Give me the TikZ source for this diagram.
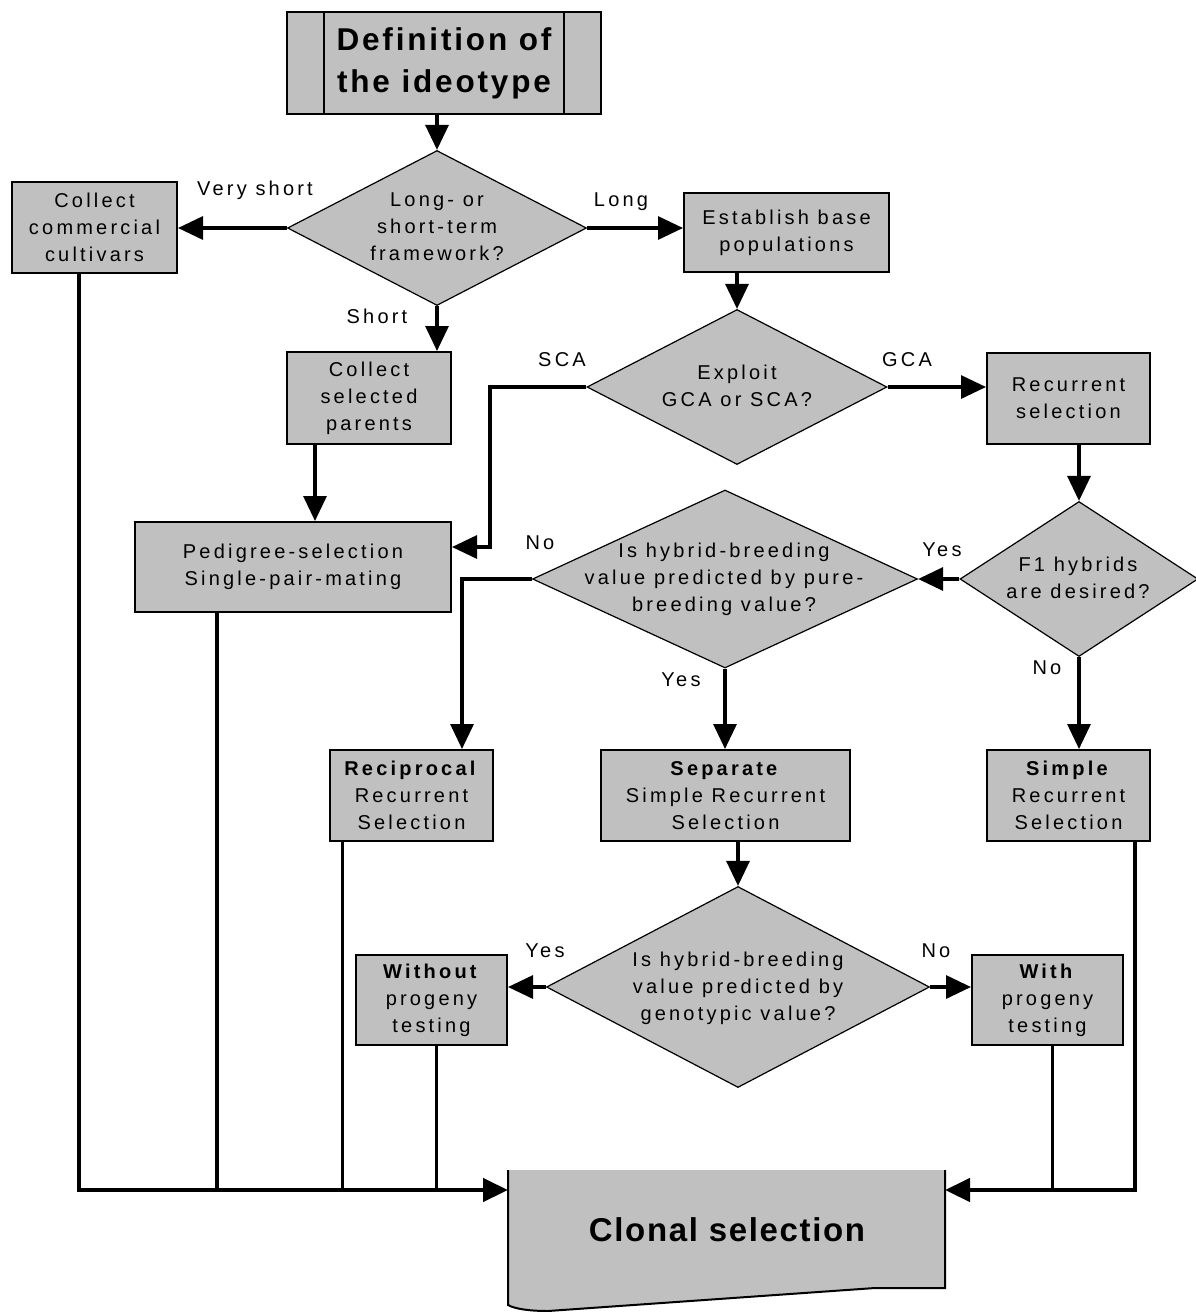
\documentclass[tikz,border=0pt]{standalone}
\usepackage{fontspec}
\setmainfont{Liberation Sans}
\newfontfamily\bxfont{Liberation Sans}[LetterSpace=16]
\newfontfamily\ttlfont{Liberation Sans}[LetterSpace=9]
\newfontfamily\clfont{Liberation Sans}[LetterSpace=5]
\usetikzlibrary{shapes.geometric,arrows.meta}
\definecolor{boxgray}{RGB}{192,192,192}
\begin{document}
\begin{tikzpicture}[x=1pt,y=-1pt,
  box/.style={draw,line width=2pt,fill=boxgray,rectangle,inner sep=0pt,align=center,
    font=\bxfont\fontsize{20}{27}\selectfont},
  dia/.style={draw,line width=1.2pt,fill=boxgray,diamond,inner sep=0pt},
  dtext/.style={align=center,inner sep=0pt,font=\bxfont\fontsize{20}{27}\selectfont},
  lbl/.style={inner sep=0pt,font=\bxfont\fontsize{20}{24}\selectfont},
  conn/.style={line width=3.2pt,-{Triangle[length=25pt,width=23pt]}},
  line/.style={line width=3pt},
  heavy/.style={line width=4.4pt},
]
\useasboundingbox (0,0) rectangle (1196,1312);

% title
\node[box,minimum width=314pt,minimum height=102pt,
  font=\ttlfont\bfseries\fontsize{31.5}{42}\selectfont] (def) at (444,63) {Definition of\\the ideotype};
\draw[line width=2.6pt] ([xshift=38pt]def.north west) -- ([xshift=38pt]def.south west);
\draw[line width=2.6pt] ([xshift=-38pt]def.north east) -- ([xshift=-38pt]def.south east);

% diamonds
\node[dia,minimum width=299pt,minimum height=155pt] (d1) at (437,228) {};
\node[dtext] (d1t) at (437,227) {Long- or\\short-term\\framework?};
\node[dia,minimum width=300pt,minimum height=155pt] (d2) at (737,387) {};
\node[dtext] (d2t) at (737,386) {Exploit\\GCA or SCA?};
\node[dia,minimum width=238pt,minimum height=155pt] (d3) at (1079,579) {};
\node[dtext] (d3t) at (1078,578) {F1 hybrids\\are desired?};
\node[dia,minimum width=385pt,minimum height=178pt] (d4) at (725,579) {};
\node[dtext] (d4t) at (724,579) {Is hybrid-breeding\\value predicted by pure-\\breeding value?};
\node[dia,minimum width=383pt,minimum height=201pt] (d5) at (738,987) {};
\node[dtext] (d5t) at (738,988) {Is hybrid-breeding\\value predicted by\\genotypic value?};

% boxes
\node[box,minimum width=165pt,minimum height=91pt] (cc) at (94.5,227.5) {Collect\\commercial\\cultivars};
\node[box,minimum width=205pt,minimum height=79pt] (eb) at (786.5,232.5) {Establish base\\populations};
\node[box,minimum width=164pt,minimum height=92pt] (csp) at (369,398) {Collect\\selected\\parents};
\node[box,minimum width=316pt,minimum height=90pt] (ped) at (293,567) {Pedigree-selection\\Single-pair-mating};
\node[box,minimum width=163pt,minimum height=91pt] (rs) at (1068.5,398.5) {Recurrent\\selection};
\node[box,minimum width=163pt,minimum height=91pt] (rec) at (411.5,795.5) {\textbf{Reciprocal}\\Recurrent\\Selection};
\node[box,minimum width=249pt,minimum height=91pt] (sep) at (725.5,795.5) {\textbf{Separate}\\Simple Recurrent\\Selection};
\node[box,minimum width=163pt,minimum height=91pt] (sim) at (1068.5,795.5) {\textbf{Simple}\\Recurrent\\Selection};
\node[box,minimum width=151pt,minimum height=90pt] (wo) at (431.5,1000) {\textbf{Without}\\progeny\\testing};
\node[box,minimum width=151pt,minimum height=90pt] (wi) at (1047.5,1000) {\textbf{With}\\progeny\\testing};

% clonal selection (document shape)
\fill[boxgray] (508,1170) -- (945,1170) -- (945,1288) -- (875,1288) -- (548,1311)
  .. controls (530,1311) and (515,1309) .. (508,1305) -- cycle;
\draw[line width=2pt] (508,1170) -- (508,1305) .. controls (515,1309) and (530,1311) .. (548,1311)
  -- (875,1288) -- (945,1288) -- (945,1170);
\node[inner sep=0pt,font=\clfont\bfseries\fontsize{33}{40}\selectfont] (cl) at (727,1230) {Clonal selection};
\coordinate (clw) at (508,1190);
\coordinate (cle) at (945,1190);

% connectors
\draw[conn] (d1.north |- def.south) -- (d1.north);
\draw[conn] (d1.west) -- (d1.west -| cc.east);
\draw[conn] (d1.east) -- (d1.east -| eb.west);
\draw[conn] (d1.south) -- (d1.south |- csp.north);
\draw[conn] (d2.north |- eb.south) -- (d2.north);
\draw[conn] (d2.east) -- (d2.east -| rs.west);
\coordinate (sca) at (490,547);
\draw[conn] (d2.west) -| (sca) -- (sca -| ped.east);
\draw[conn] ([xshift=-54pt]csp.south) -- ([xshift=-54pt]csp.south |- ped.north);
\draw[conn] (d3.north |- rs.south) -- (d3.north);
\draw[conn] (d3.west) -- (d4.east);
\draw[conn] (d4.west) -| ([xshift=50.5pt]rec.north);
\draw[conn] (d4.south) -- (d4.south |- sep.north);
\draw[conn] (d3.south) -- (d3.south |- sim.north);
\draw[conn] (d5.north |- sep.south) -- (d5.north);
\draw[conn] (d5.west) -- (d5.west -| wo.east);
\draw[conn] (d5.east) -- (d5.east -| wi.west);

% to clonal selection
\draw[heavy] ([xshift=-76pt]ped.south) -- ([xshift=-76pt]ped.south |- clw);
\draw[line] ([xshift=-69.5pt]rec.south) -- ([xshift=-69.5pt]rec.south |- clw);
\draw[line] ([xshift=4.5pt]wo.south) -- ([xshift=4.5pt]wo.south |- clw);
\draw[line] ([xshift=4.5pt]wi.south) -- ([xshift=4.5pt]wi.south |- cle);
\draw[conn,heavy] ([xshift=-15.5pt]cc.south) |- (clw);
\draw[conn,heavy] ([xshift=66.5pt]sim.south) |- (cle);

% labels
\node[lbl] (l1) at (255,190) {Very short};
\node[lbl] (l2) at (621,202) {Long};
\node[lbl] (l3) at (377,316) {Short};
\node[lbl] (l4) at (562,360) {SCA};
\node[lbl] (l5) at (907,360) {GCA};
\node[lbl] (l6) at (540,543) {No};
\node[lbl] (l7) at (942,550) {Yes};
\node[lbl] (l8) at (681,680) {Yes};
\node[lbl] (l9) at (1047,668) {No};
\node[lbl] (l10) at (545,951) {Yes};
\node[lbl] (l11) at (936,951) {No};
\end{tikzpicture}
\end{document}
